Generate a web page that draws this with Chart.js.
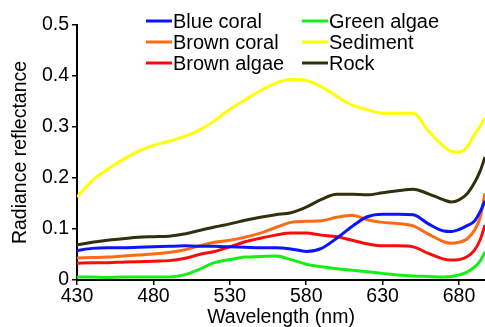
<!DOCTYPE html>
<html>
<head>
<meta charset="utf-8">
<script src="https://cdn.jsdelivr.net/npm/chart.js@4.4.1/dist/chart.umd.min.js"></script>
<style>
html,body{margin:0;padding:0;background:#fff;}
#wrap{width:485px;height:327px;position:relative;}
</style>
</head>
<body>
<div id="wrap"><canvas id="c" width="485" height="327"></canvas></div>
<script>
// Wavelengths (nm) at which values were read
const wavelengths = [430,440,450,460,470,480,490,500,510,520,530,540,550,560,570,580,590,600,610,620,630,640,650,660,670,675,680,685,690,694,697];

const blueCoral  = [.058,.062,.063,.063,.064,.065,.066,.067,.066,.066,.065,.064,.063,.063,.061,.056,.062,.082,.105,.124,.129,.129,.128,.110,.096,.095,.099,.106,.115,.135,.155];
const brownCoral = [.043,.044,.045,.047,.049,.051,.054,.059,.067,.074,.078,.084,.092,.103,.113,.115,.116,.123,.127,.118,.113,.111,.106,.090,.075,.072,.074,.080,.097,.124,.170];
const brownAlgae = [.033,.034,.034,.035,.036,.037,.038,.042,.050,.056,.065,.075,.082,.088,.092,.092,.088,.085,.078,.071,.067,.067,.065,.052,.041,.039,.040,.045,.058,.080,.108];
const greenAlgae = [.006,.006,.005,.006,.006,.006,.006,.010,.021,.034,.040,.045,.046,.047,.040,.031,.026,.022,.019,.016,.013,.010,.008,.007,.006,.007,.010,.015,.025,.038,.055];
const sediment   = [.163,.195,.217,.236,.252,.264,.272,.281,.294,.312,.335,.353,.371,.386,.393,.391,.379,.360,.343,.334,.327,.327,.327,.292,.262,.252,.251,.260,.285,.302,.318];
const rock       = [.069,.074,.078,.081,.084,.085,.086,.090,.097,.104,.110,.117,.123,.128,.132,.143,.158,.168,.168,.167,.171,.175,.178,.169,.157,.153,.157,.168,.190,.215,.241];

const seriesNames  = ['Blue coral','Brown coral','Brown algae','Green algae','Sediment','Rock'];
const seriesValues = [blueCoral, brownCoral, brownAlgae, greenAlgae, sediment, rock];
const seriesColors = ['#0a14ff','#ff6a14','#ff0a0a','#14f014','#ffff00','#30300c'];

const xTicks = [430,480,530,580,630,680];
const yTicks = [0,0.1,0.2,0.3,0.4,0.5];

const FONT = "'Liberation Sans', Arial, sans-serif";

const datasets = seriesNames.map((name,i)=>({
  label: name,
  data: wavelengths.map((w,j)=>({x:w, y:seriesValues[i][j]})),
  borderColor: seriesColors[i],
  backgroundColor: seriesColors[i],
  borderWidth: 3,
  pointRadius: 0,
  fill: false,
  cubicInterpolationMode: 'monotone'
}));

// Custom two-column legend drawn inside the plot
const legendPlugin = {
  id: 'twoColLegend',
  afterDraw(chart){
    const ctx = chart.ctx;
    const cols = [{lineX:146, textX:173}, {lineX:302, textX:329}];
    const rows = [21, 42, 63];
    ctx.save();
    ctx.font = '20px ' + FONT;
    ctx.textBaseline = 'middle';
    ctx.textAlign = 'left';
    seriesNames.forEach((name,i)=>{
      const c = cols[Math.floor(i/3)], y = rows[i%3];
      ctx.strokeStyle = seriesColors[i];
      ctx.lineWidth = 3;
      ctx.beginPath();
      ctx.moveTo(c.lineX, y);
      ctx.lineTo(c.lineX + 26, y);
      ctx.stroke();
      ctx.fillStyle = '#000';
      ctx.fillText(name, c.textX, y + 1);
    });
    ctx.restore();
  }
};

new Chart(document.getElementById('c'), {
  type: 'line',
  data: { datasets },
  plugins: [legendPlugin],
  options: {
    responsive: false,
    animation: false,
    events: [],
    layout: { padding: { top: 25, right: 0, left: 0, bottom: 0 } },
    plugins: { legend: { display: false }, tooltip: { enabled: false } },
    scales: {
      x: {
        type: 'linear',
        min: 430, max: 697,
        afterBuildTicks: s => { s.ticks = xTicks.map(v=>({value:v})); },
        afterFit: s => { s.height = 47; },
        grid: { display: true, drawOnChartArea: false, drawTicks: true, tickLength: 5, color: '#000', lineWidth: 1.5 },
        border: { display: true, color: '#000', width: 2 },
        ticks: { color: '#000', font: { family: FONT, size: 19.5 }, padding: 0, maxRotation: 0, autoSkip: false },
        title: { display: true, text: 'Wavelength (nm)', color: '#000', font: { family: FONT, size: 19.5 }, padding: { top: 0, bottom: -2 } }
      },
      y: {
        type: 'linear',
        min: 0, max: 0.5,
        afterBuildTicks: s => { s.ticks = yTicks.map(v=>({value:v})); },
        afterFit: s => { s.width = 77; },
        grid: { display: true, drawOnChartArea: false, drawTicks: true, tickLength: 5, color: '#000', lineWidth: 1.5 },
        border: { display: true, color: '#000', width: 2 },
        ticks: { color: '#000', font: { family: FONT, size: 19.5 }, padding: 3,
          callback: v => v === 0 ? '0' : v.toFixed(1) },
        title: { display: true, text: 'Radiance reflectance', color: '#000', font: { family: FONT, size: 19.5 }, padding: { top: 9, bottom: 0 } }
      }
    }
  }
});
</script>
</body>
</html>
